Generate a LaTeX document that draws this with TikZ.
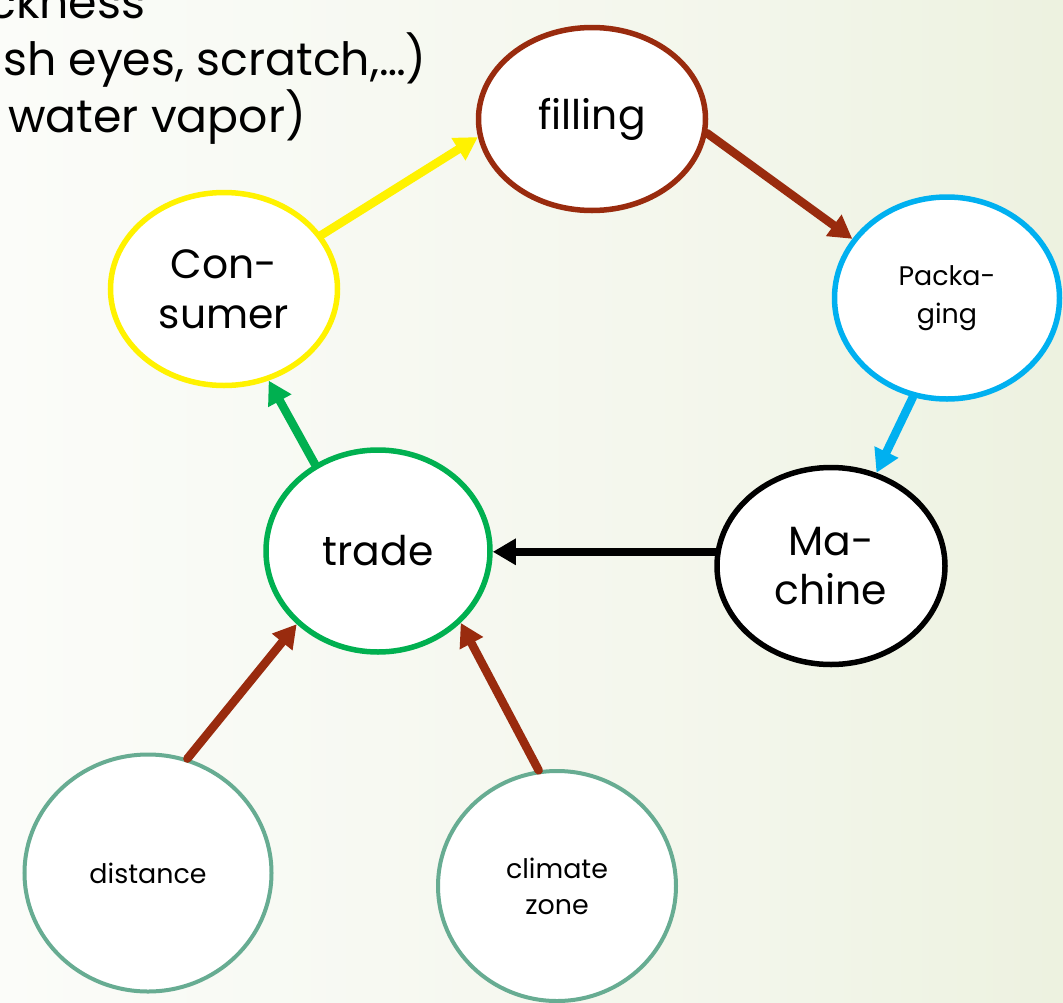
\documentclass[tikz,border=0pt]{standalone}
\usepackage{fontspec}
\setmainfont{Poppins}
\usetikzlibrary{shapes.geometric,arrows.meta}
\definecolor{bgw}{RGB}{251,252,249}
\definecolor{bgm}{RGB}{243,246,235}
\definecolor{bgg}{RGB}{226,234,205}
\definecolor{rust}{RGB}{153,43,14}
\definecolor{cyanb}{RGB}{0,176,240}
\definecolor{greenb}{RGB}{0,176,80}
\definecolor{tealb}{RGB}{103,172,146}
\pgfdeclarehorizontalshading{bgshade}{100bp}{color(0bp)=(bgw); color(25bp)=(bgw); color(60bp)=(bgm); color(100bp)=(bgg)}
\begin{document}
\begin{tikzpicture}[x=1bp,y=-1bp,
  bubble/.style={ellipse, draw, fill=white, line width=5.5bp, inner sep=0pt, align=center, font=\fontsize{41}{50}\selectfont},
  smallbubble/.style={bubble, line width=4bp, draw=tealb, font=\fontsize{27}{36}\selectfont},
  conn/.style={line width=8.5bp, line cap=round, -{Triangle[length=23bp,width=25bp]}},
  toptext/.style={anchor=base west, inner sep=0pt, font=\fontsize{46}{50}\selectfont}]
\useasboundingbox (0,0) rectangle (1063,1003);
\clip (0,0) rectangle (1063,1003);
\shade[shading=bgshade] (0,0) rectangle (1063,1003);

\node[toptext] (t1) at (-12,18) {ckness};
\node[toptext] (t2) at (3,75) {sh eyes, scratch,…)};
\node[toptext] (t3) at (8,132) {water vapor)};

\node[bubble, draw=rust, minimum width=227bp, minimum height=183bp] (filling) at (592,119) {filling};
\node[bubble, draw=yellow, minimum width=227bp, minimum height=193bp] (consumer) at (224,289) {Con-\\sumer};
\node[bubble, draw=cyanb, minimum width=225bp, minimum height=202bp, font=\fontsize{27}{38}\selectfont] (pack) at (947,298) {Packa-\\ging};
\node[bubble, draw=black, minimum width=228bp, minimum height=197bp] (machine) at (831,566) {Ma-\\chine};
\node[bubble, draw=greenb, minimum width=224bp, minimum height=202bp] (trade) at (378,551) {trade};
\node[smallbubble, minimum width=247bp, minimum height=237bp] (distance) at (148,873) {distance};
\node[smallbubble, minimum width=238bp, minimum height=230bp] (climate) at (557,886) {climate\\zone};

\draw[conn, yellow] (consumer.29) -- (filling.189);
\draw[conn, rust] (filling.-7) -- (pack.148);
\draw[conn, cyanb] (pack.251) -- (machine.64);
\draw[conn, black] (machine.173) -- (machine.173 -| trade.east);
\draw[conn, greenb] (trade.126) -- (consumer.-64);
\draw[conn, rust] (distance.71) -- (trade.222);
\draw[conn, rust] (climate.99) -- (trade.-41);
\end{tikzpicture}
\end{document}
